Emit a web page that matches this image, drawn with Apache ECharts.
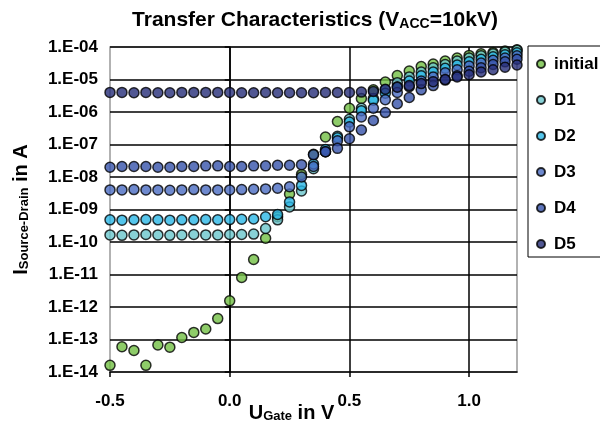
<!DOCTYPE html>
<html>
<head>
<meta charset="utf-8">
<script src="https://cdn.jsdelivr.net/npm/echarts@6/dist/echarts.min.js"></script>
<style>
  html, body { margin: 0; padding: 0; background: #fff; }
  #chart { width: 600px; height: 425px; }
</style>
</head>
<body>
<div id="chart"></div>
<script>
// gate voltage in V
const uGate = [-0.5, -0.45, -0.4, -0.35, -0.3, -0.25, -0.2, -0.15, -0.1, -0.05,
  0, 0.05, 0.1, 0.15, 0.2, 0.25, 0.3, 0.35, 0.4, 0.45,
  0.5, 0.55, 0.6, 0.65, 0.7, 0.75, 0.8, 0.85, 0.9, 0.95,
  1.0, 1.05, 1.1, 1.15, 1.2]

// source-drain current in A
const initial = [1.6e-14, 6e-14, 4.6e-14, 1.6e-14, 6.8e-14, 5.8e-14, 1.15e-13, 1.65e-13, 2.1e-13, 4.4e-13,
  1.55e-12, 8.1e-12, 2.9e-11, 1.3e-10, 6e-10, 3e-9, 1.2e-8, 5e-8, 1.7e-7, 5.1e-7,
  1.3e-6, 2.6e-6, 4.8e-6, 8.4e-6, 1.33e-5, 1.83e-5, 2.5e-5, 3.0e-5, 3.7e-5, 4.6e-5,
  5.5e-5, 6.2e-5, 6.8e-5, 7.5e-5, 8.2e-5]
const d1 = [1.65e-10, 1.6e-10, 1.65e-10, 1.7e-10, 1.65e-10, 1.6e-10, 1.65e-10, 1.7e-10, 1.65e-10, 1.65e-10,
  1.7e-10, 1.7e-10, 1.75e-10, 2.6e-10, 4.8e-10, 1.2e-9, 3.7e-9, 1.8e-8, 6e-8, 1.8e-7,
  6e-7, 1.3e-6, 2.6e-6, 4.8e-6, 8e-6, 1.2e-5, 1.7e-5, 2.3e-5, 2.9e-5, 3.7e-5,
  4.6e-5, 5.4e-5, 6.2e-5, 7e-5, 8e-5]
const d2 = [4.8e-10, 4.7e-10, 4.8e-10, 4.9e-10, 4.8e-10, 4.7e-10, 4.8e-10, 4.8e-10, 4.9e-10, 4.8e-10,
  4.9e-10, 5e-10, 5.1e-10, 6e-10, 7e-10, 1.7e-9, 5.5e-9, 2.5e-8, 7e-8, 1.6e-7,
  4.9e-7, 1.1e-6, 2.3e-6, 3.8e-6, 6e-6, 9e-6, 1.3e-5, 1.7e-5, 2.2e-5, 2.8e-5,
  3.5e-5, 4.2e-5, 5e-5, 5.8e-5, 6.6e-5]
const d3 = [4e-9, 4e-9, 4.1e-9, 4e-9, 4e-9, 3.9e-9, 4e-9, 4.1e-9, 4e-9, 4e-9,
  4e-9, 4.1e-9, 4.2e-9, 4.3e-9, 4.5e-9, 5e-9, 1e-8, 2.1e-8, 6e-8, 1.3e-7,
  3.5e-7, 7e-7, 1.3e-6, 2.4e-6, 4e-6, 6e-6, 9e-6, 1.2e-5, 1.6e-5, 2e-5,
  2.6e-5, 3.2e-5, 3.9e-5, 4.6e-5, 5.4e-5]
const d4 = [2e-8, 2.1e-8, 2.1e-8, 2.1e-8, 2e-8, 2e-8, 2.1e-8, 2.1e-8, 2.2e-8, 2.2e-8,
  2.1e-8, 2.1e-8, 2.2e-8, 2.2e-8, 2.3e-8, 2.3e-8, 2.4e-8, 4.8e-8, 6e-8, 7.6e-8,
  1.5e-7, 2.8e-7, 5.5e-7, 9.6e-7, 1.8e-6, 2.8e-6, 4.8e-6, 6.5e-6, 9.6e-6, 1.3e-5,
  1.8e-5, 2.3e-5, 2.9e-5, 3.5e-5, 4.2e-5]
const d5 = [4e-6, 4e-6, 3.9e-6, 4e-6, 3.9e-6, 3.9e-6, 4e-6, 4e-6, 4e-6, 4e-6,
  4e-6, 3.9e-6, 3.9e-6, 4e-6, 3.9e-6, 3.9e-6, 3.9e-6, 3.9e-6, 4e-6, 4e-6,
  4e-6, 4.1e-6, 4.3e-6, 5e-6, 5.8e-6, 6.5e-6, 7.5e-6, 8.6e-6, 1e-5, 1.2e-5,
  1.4e-5, 1.7e-5, 2e-5, 2.4e-5, 2.8e-5]

const seriesNames = ['initial', 'D1', 'D2', 'D3', 'D4', 'D5']
const seriesData = [initial, d1, d2, d3, d4, d5]
const colors = ['#72bf44', '#6ac6cc', '#2ab6e6', '#4a6cc2', '#3652aa', '#262d78']

const font = 'Liberation Sans, Arial, sans-serif'

function expLabel (v) {
  const e = Math.round(Math.log10(v))
  const a = Math.abs(e)
  return '1.E' + (e < 0 ? '-' : '+') + (a < 10 ? '0' : '') + a
}

const chart = echarts.init(document.getElementById('chart'))

chart.setOption({
  animation: false,
  color: colors,
  title: {
    text: '{a|Transfer Characteristics (V}{s|ACC}{a|=10kV)}',
    left: 310,
    textAlign: 'center',
    top: 3,
    textStyle: {
      rich: {
        a: { fontFamily: font, fontWeight: 'bold', fontSize: 21, color: '#000', lineHeight: 25 },
        s: { fontFamily: font, fontWeight: 'bold', fontSize: 14, color: '#000', padding: [7, 0, 0, 0], lineHeight: 25 }
      }
    }
  },
  grid: {
    left: 110, right: 83, top: 47, bottom: 53,
    outerBoundsMode: 'none',
    containLabel: false,
    show: true, borderColor: '#999', borderWidth: 1.5
  },
  legend: {
    orient: 'vertical',
    left: 531,
    top: 49,
    itemGap: 16,
    itemWidth: 8,
    itemHeight: 8,
    icon: 'circle',
    textStyle: { fontFamily: font, fontWeight: 'bold', fontSize: 17, lineHeight: 20, color: '#000', padding: [0, 0, 0, 4] }
  },
  graphic: [{
    type: 'rect',
    shape: { x: 528, y: 46, width: 80, height: 211 },
    style: { fill: 'none', stroke: '#000', lineWidth: 1 },
    z: 10
  }],
  xAxis: {
    type: 'value',
    min: -0.5,
    max: 1.2,
    interval: 0.5,
    name: '{a|U}{s|Gate}{a| in V}',
    nameLocation: 'middle',
    nameGap: 30,
    nameMoveOverlap: false,
    nameTextStyle: {
      padding: [0, 44, 0, 0],
      rich: {
        a: { fontFamily: font, fontWeight: 'bold', fontSize: 20, color: '#000', lineHeight: 22 },
        s: { fontFamily: font, fontWeight: 'bold', fontSize: 13, color: '#000', padding: [7, 0, 0, 0], lineHeight: 22 }
      }
    },
    axisLine: { onZero: false, lineStyle: { color: '#000', width: 1.5 } },
    axisTick: { length: 5, lineStyle: { color: '#000', width: 1.5 } },
    axisLabel: {
      showMaxLabel: false,
      margin: 21,
      fontFamily: font, fontWeight: 'bold', fontSize: 17, color: '#000',
      formatter: v => v.toFixed(1)
    },
    splitLine: { show: true, showMinLine: false, showMaxLine: false, lineStyle: { color: '#000', width: 1.5 } }
  },
  yAxis: {
    type: 'log',
    logBase: 10,
    min: 1e-14,
    max: 1e-4,
    interval: 1,
    splitNumber: 10,
    name: '{a|I}{s|Source-Drain}{a| in A}',
    nameLocation: 'middle',
    nameRotate: 90,
    nameGap: 78,
    nameMoveOverlap: false,
    nameTextStyle: {
      rich: {
        a: { fontFamily: font, fontWeight: 'bold', fontSize: 20, color: '#000', lineHeight: 22 },
        s: { fontFamily: font, fontWeight: 'bold', fontSize: 13, color: '#000', padding: [7, 0, 0, 0], lineHeight: 22 }
      }
    },
    axisLine: { show: true, lineStyle: { color: '#000', width: 1.5 } },
    axisTick: { length: 5, lineStyle: { color: '#000', width: 1.5 } },
    axisLabel: {
      margin: 12,
      fontFamily: font, fontWeight: 'bold', fontSize: 17, color: '#000',
      formatter: expLabel
    },
    splitLine: { show: true, showMinLine: false, showMaxLine: false, lineStyle: { color: '#000', width: 1.5 } }
  },
  series: seriesNames.map((name, i) => ({
    name,
    type: 'scatter',
    symbol: 'circle',
    symbolSize: 10,
    itemStyle: { color: colors[i], borderColor: '#000', borderWidth: 1.5 },
    data: uGate.map((u, j) => [u, seriesData[i][j]])
  }))
})
</script>
</body>
</html>
